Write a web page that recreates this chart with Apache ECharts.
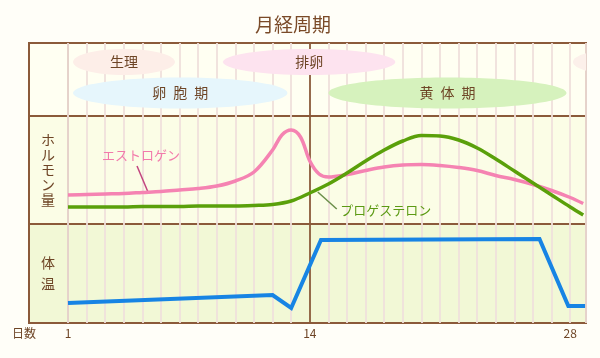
<!DOCTYPE html>
<html><head><meta charset="utf-8">
<script src="https://cdn.jsdelivr.net/npm/echarts@6/dist/echarts.min.js"></script>
<style>html,body{margin:0;padding:0;background:#fffef8}#c{width:600px;height:358px}</style>
</head><body><div id="c"></div>
<script>
// ---- data ----
const chartTitle = '月経周期';
const phaseNames = ['生理', '排卵', '卵\u2002胞\u2002期', '黄\u2002体\u2002期', '生理'];
const phaseStart = [1.27, 9.33, 1.27, 15.0, 28.15];
const phaseEnd = [6.75, 18.6, 12.8, 27.8, 33.6];
const phaseRow = [1, 1, 0, 0, 1];

const estrogenName = 'エストロゲン';
const estrogenDays = [1,2,3,4,5,6,7,8,9,10,11,12,12.5,13,13.5,14,14.5,15,16,17,18,19,20,21,22,23,24,25,26,27,28,28.7];
const estrogenLevel = [29,29.5,30,30.5,31.5,32.5,34,35.5,38,43,52,74,89,94,87,63,50,47,49.5,53.5,57,59,59.5,58.5,56.5,53.5,48.5,44.5,39.5,33.5,26.5,20.5];

const progesteroneName = 'プロゲステロン';
const progesteroneDays = [1,2,3,4,5,6,7,8,9,10,11,12,13,14,15,16,17,18,19,20,21,22,23,24,25,26,27,28,28.7];
const progesteroneLevel = [17,17,17,17,17.5,17.5,17.5,18,18,18,18.5,19.5,23,31,40,51,63,74,83,88.5,88,84,76,65,53,41,29,17,9];

const tempDays = [1, 12, 13, 14.6, 26.35, 27.9, 28.8];
const tempLevel = [20, 28, 15, 83, 84, 17, 17];

const xTickLabels = [1, 14, 28];
const ovulationDay = 14;
const hormoneAxisName = 'ホ\nル\nモ\nン\n量';
const tempAxisName = '体\n温';
const dayAxisName = '日数';

// ---- styles ----
const FONT = "'Noto Sans CJK JP','Noto Sans',sans-serif";
const BROWN = '#8b5a3a';
const TEXT = '#6e4526';
const PALE = '#f0e0dc';
const phaseColors = ['#fdeee8', '#fde3ef', '#e6f6fc', '#d6f2bd', '#fcf0ea'];
const rowBg = ['#fffff2', '#fbfde6', '#f2f8d6'];
const PINK = '#f583b2', GREEN = '#5aa00a', BLUE = '#1784e4';

const zip = (a, b) => a.map((v, i) => [v, b[i]]);

const rows = [{top: 43, height: 73}, {top: 116, height: 108}, {top: 224, height: 99}];
const grids = [], xAxes = [], yAxes = [];
const splitColors = [];
for (let d = 1; d <= 29; d++) splitColors.push(d === ovulationDay ? BROWN : PALE);

rows.forEach((r, i) => {
  grids.push({left: 68, right: 14, top: r.top, height: r.height, show: true,
    backgroundColor: rowBg[i], borderColor: BROWN, borderWidth: 2});
  xAxes.push({gridIndex: i, type: 'value', min: 1, max: 28.85, interval: 1,
    axisLine: {show: false}, axisTick: {show: false},
    splitLine: {show: true, lineStyle: {color: splitColors, width: 1.8}},
    axisLabel: i === 2 ? {show: true, color: TEXT, fontSize: 12, fontFamily: FONT, margin: 4,
      formatter: v => xTickLabels.includes(Math.round(v * 100) / 100) ? String(v) : ''} : {show: false},
    name: i === 2 ? dayAxisName : '', nameLocation: 'start', nameGap: 32,
    nameTextStyle: {color: TEXT, fontSize: 12, fontFamily: FONT, verticalAlign: 'top', padding: [4, 0, 0, 0]}
  });
});
rows.forEach((r, i) => {
  grids.push({left: 29, width: 39, top: r.top, height: r.height, show: true,
    backgroundColor: rowBg[i], borderColor: BROWN, borderWidth: 2});
  xAxes.push({gridIndex: 3 + i, type: 'value', min: 0, max: 1, show: false});
});
yAxes.push({gridIndex: 0, type: 'value', min: -0.74, max: 1.61, show: false});
yAxes.push({gridIndex: 1, type: 'value', min: 0, max: 108,
  axisLine: {show: false}, axisTick: {show: false}, axisLabel: {show: false}, splitLine: {show: false},
  name: hormoneAxisName, nameLocation: 'middle', nameRotate: 0, nameGap: 13,
  nameTextStyle: {color: TEXT, fontSize: 14, fontFamily: FONT, lineHeight: 15}});
yAxes.push({gridIndex: 2, type: 'value', min: 0, max: 99,
  axisLine: {show: false}, axisTick: {show: false}, axisLabel: {show: false}, splitLine: {show: false},
  name: tempAxisName, nameLocation: 'middle', nameRotate: 0, nameGap: 13,
  nameTextStyle: {color: TEXT, fontSize: 14, fontFamily: FONT, lineHeight: 21}});
for (let i = 0; i < 3; i++) yAxes.push({gridIndex: 3 + i, type: 'value', min: 0, max: 1, show: false});

const chart = echarts.init(document.getElementById('c'), null, {renderer: 'canvas'});
chart.setOption({
  animation: false,
  backgroundColor: '#fffef8',
  title: {text: chartTitle, left: 250, top: 10,
    textStyle: {color: '#7a4a28', fontSize: 19, fontWeight: 'normal', fontFamily: FONT}},
  grid: grids, xAxis: xAxes, yAxis: yAxes,
  series: [
    {
      type: 'custom', xAxisIndex: 0, yAxisIndex: 0, silent: true,
      data: phaseStart.map((s, i) => [s, phaseEnd[i], phaseRow[i], i]),
      encode: {x: [0, 1], y: 2},
      renderItem: (params, api) => {
        const i = api.value(3);
        const a = api.coord([api.value(0), api.value(2)]);
        const b = api.coord([api.value(1), api.value(2)]);
        const cx = (a[0] + b[0]) / 2, cy = a[1];
        const cs = params.coordSys;
        return {
          type: 'group',
          clipPath: {type: 'rect', shape: {x: cs.x, y: cs.y, width: cs.width, height: cs.height}},
          children: [
            {type: 'ellipse', shape: {cx: cx, cy: cy, rx: (b[0] - a[0]) / 2, ry: api.value(2) === 1 ? 13 : 15.5},
              style: {fill: phaseColors[i]}},
            {type: 'text', x: cx, y: cy,
              style: {text: phaseNames[i], fill: TEXT, font: '14px ' + FONT,
                align: 'center', verticalAlign: 'middle', textAlign: 'center', textVerticalAlign: 'middle'}}
          ]
        };
      }
    },
    {
      name: estrogenName, type: 'line', xAxisIndex: 1, yAxisIndex: 1, z: 6,
      data: zip(estrogenDays, estrogenLevel), smooth: 0.35, showSymbol: false, symbol: 'none',
      lineStyle: {color: PINK, width: 3.5}, itemStyle: {color: PINK},
      markPoint: {silent: true, symbol: 'circle', symbolSize: 0,
        data: [{coord: [4.92, 69], label: {show: true, position: 'inside', formatter: estrogenName,
          color: '#f27aab', fontSize: 13, fontFamily: FONT}}]},
      markLine: {silent: true, symbol: ['none', 'none'], label: {show: false},
        data: [[{coord: [4.71, 58], lineStyle: {color: '#c2457f', width: 1.5, type: 'solid'}}, {coord: [5.3, 32]}]]}
    },
    {
      name: progesteroneName, type: 'line', xAxisIndex: 1, yAxisIndex: 1, z: 7,
      data: zip(progesteroneDays, progesteroneLevel), smooth: 0.35, showSymbol: false, symbol: 'none',
      lineStyle: {color: GREEN, width: 3.5}, itemStyle: {color: GREEN},
      markPoint: {silent: true, symbol: 'circle', symbolSize: 0,
        data: [{coord: [18.08, 14], label: {show: true, position: 'inside', formatter: progesteroneName,
          color: '#5c9a14', fontSize: 13, fontFamily: FONT}}]},
      markLine: {silent: true, symbol: ['none', 'none'], label: {show: false},
        data: [[{coord: [14.43, 32], lineStyle: {color: '#6b8f4a', width: 1.5, type: 'solid'}}, {coord: [15.45, 15]}]]}
    },
    {
      name: '体温', type: 'line', xAxisIndex: 2, yAxisIndex: 2, z: 6,
      data: zip(tempDays, tempLevel), smooth: false, showSymbol: false, symbol: 'none',
      lineStyle: {color: BLUE, width: 4, join: 'miter'}, itemStyle: {color: BLUE}
    }
  ]
});
</script></body></html>
